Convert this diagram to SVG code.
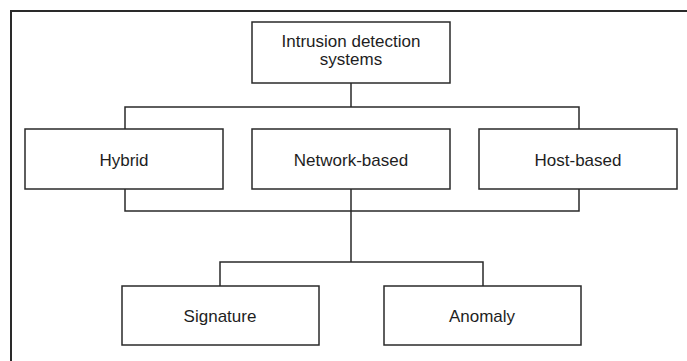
<svg xmlns="http://www.w3.org/2000/svg" width="687" height="361" viewBox="0 0 687 361">
<style>
.frame{fill:none;stroke:#2a2a2a;stroke-width:2}
.box{fill:#fff;stroke:#2a2a2a;stroke-width:1.5}
.conn{fill:none;stroke:#2a2a2a;stroke-width:1.5}
.lbl{font-family:"Liberation Sans",Arial,sans-serif;font-size:17px;fill:#1e1e1e;text-anchor:middle}
</style>
<rect x="0" y="0" width="687" height="361" fill="#fff"/>
<rect class="frame" x="11" y="11" width="700" height="400"/>
<g id="connectors">
<path class="conn" d="M351 83 V107 M125 129 V107 H579 V129"/>
<path class="conn" d="M125 189 V211 H579 V189 M351 189 V262 M220 286 V262 H483 V286"/>
</g>
<g id="ids">
<rect class="box" x="252" y="22" width="198" height="61"/>
<text class="lbl" x="351" y="47">Intrusion detection</text>
<text class="lbl" x="351" y="65">systems</text>
</g>
<g id="hybrid">
<rect class="box" x="25" y="129" width="198" height="60"/>
<text class="lbl" x="124" y="166">Hybrid</text>
</g>
<g id="network">
<rect class="box" x="252" y="129" width="198" height="60"/>
<text class="lbl" x="351" y="166">Network-based</text>
</g>
<g id="host">
<rect class="box" x="479" y="129" width="198" height="60"/>
<text class="lbl" x="578" y="166">Host-based</text>
</g>
<g id="signature">
<rect class="box" x="122" y="286" width="197" height="59"/>
<text class="lbl" x="220" y="322">Signature</text>
</g>
<g id="anomaly">
<rect class="box" x="384" y="286" width="197" height="59"/>
<text class="lbl" x="482" y="322">Anomaly</text>
</g>
</svg>
